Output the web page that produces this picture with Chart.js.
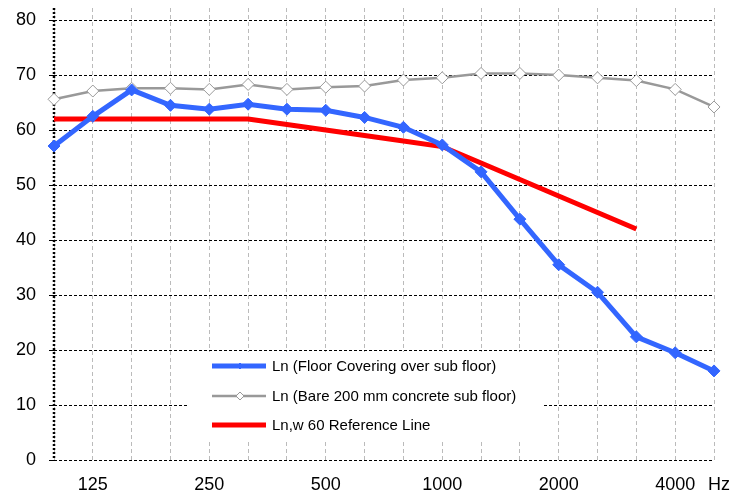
<!DOCTYPE html>
<html><head><meta charset="utf-8">
<script src="https://cdn.jsdelivr.net/npm/chart.js@4"></script>
<style>html,body{margin:0;padding:0;background:#fff;}#wrap{width:744px;height:496px;}</style>
</head><body><div id="wrap"><canvas id="c" width="744" height="496"></canvas></div>
<script>
const bands = ['100','125','160','200','250','315','400','500','630','800','1000','1250','1600','2000','2500','3150','4000','5000'];
const tickLabels = ['','125','','','250','','','500','','','1000','','','2000','','','4000','  Hz'];
const yTicks = [0,10,20,30,40,50,60,70,80];
const floorCovering = [57.1,62.5,67.3,64.5,63.8,64.7,63.8,63.6,62.3,60.5,57.3,52.4,43.8,35.5,30.5,22.4,19.5,16.2];
const bareConcrete = [65.6,67.1,67.6,67.6,67.4,68.3,67.4,67.8,68.0,69.1,69.5,70.3,70.3,70.0,69.5,69.0,67.4,64.2];
const referenceLine = [62,62,62,62,62,62,61,60,59,58,57,54,51,48,45,42,null,null];
const seriesNames = ['Ln (Floor Covering over sub floor)','Ln (Bare 200 mm concrete sub floor)','Ln,w 60 Reference Line'];

const legendPlugin = {
  id: 'boxLegend',
  afterDatasetsDraw(chart) {
    const ctx = chart.ctx;
    const bx = 188, by = 352, bw = 355, bh = 88;
    ctx.save();
    ctx.fillStyle = '#fff';
    ctx.fillRect(bx, by, bw, bh);
    const rows = [366, 396, 425];
    chart.data.datasets.forEach((ds, i) => {
      const y = rows[i];
      ctx.beginPath();
      ctx.strokeStyle = ds.borderColor;
      ctx.lineWidth = ds.borderWidth;
      ctx.moveTo(212, y); ctx.lineTo(266, y); ctx.stroke();
      if (ds.pointStyle) {
        const r = i === 0 ? 3 : 4;
        ctx.beginPath();
        ctx.moveTo(240, y - r); ctx.lineTo(240 + r, y); ctx.lineTo(240, y + r); ctx.lineTo(240 - r, y); ctx.closePath();
        ctx.fillStyle = ds.pointBackgroundColor; ctx.fill();
        ctx.lineWidth = 1; ctx.strokeStyle = ds.pointBorderColor; ctx.stroke();
      }
      ctx.fillStyle = '#000';
      ctx.font = '15px "Liberation Sans", Arial, sans-serif';
      ctx.textBaseline = 'middle';
      ctx.textAlign = 'left';
      ctx.fillText(ds.label, 272, y + 1);
    });
    ctx.restore();
  }
};

const axisLinePlugin = {
  id: 'axisLine',
  beforeDatasetsDraw(chart) {
    const ctx = chart.ctx, a = chart.chartArea;
    const x = chart.scales.x.getPixelForValue(0);
    ctx.save();
    ctx.strokeStyle = '#000'; ctx.lineWidth = 2.5; ctx.setLineDash([2, 2]);
    ctx.beginPath(); ctx.moveTo(x, a.top); ctx.lineTo(x, a.bottom); ctx.stroke();
    ctx.restore();
  }
};

new Chart(document.getElementById('c'), {
  type: 'line',
  data: {
    labels: bands,
    datasets: [
      { label: seriesNames[0], data: floorCovering, borderColor: '#3366FF', borderWidth: 5,
        pointStyle: 'rectRot', pointRadius: 6, pointBackgroundColor: '#3366FF', pointBorderColor: '#3366FF', pointBorderWidth: 1, tension: 0 },
      { label: seriesNames[1], data: bareConcrete, borderColor: '#999999', borderWidth: 2.5,
        pointStyle: 'rectRot', pointRadius: 6, pointBackgroundColor: '#ffffff', pointBorderColor: '#999999', pointBorderWidth: 1, tension: 0 },
      { label: seriesNames[2], data: referenceLine, borderColor: '#FF0000', borderWidth: 5,
        pointRadius: 0, pointStyle: false, tension: 0, spanGaps: false }
    ]
  },
  options: {
    responsive: false, animation: false,
    layout: { padding: { left: 4, right: 30, top: 8, bottom: 0 } },
    plugins: { legend: { display: false }, tooltip: { enabled: false } },
    scales: {
      x: {
        offset: false,
        grid: { color: '#bbbbbb', lineWidth: 1, drawTicks: false, tickLength: 0 },
        border: { display: false, dash: [4, 3] },
        ticks: { autoSkip: false, maxRotation: 0, padding: 14, color: '#000',
          font: { size: 18, family: '"Liberation Sans", Arial, sans-serif' },
          callback: (v, i) => tickLabels[i] },
        afterFit: (s) => { s.height = 36; s.paddingLeft = 0; s.paddingRight = 0; }
      },
      y: {
        min: 0, max: 82.2,
        grid: { color: '#000', lineWidth: 1, tickLength: 5 },
        border: { display: false, dash: [3, 2] },
        ticks: { padding: 13, color: '#000',
          font: { size: 18, family: '"Liberation Sans", Arial, sans-serif' } },
        afterBuildTicks: (s) => { s.ticks = yTicks.map(v => ({ value: v })); },
        afterFit: (s) => { s.width = 50; s.paddingTop = 0; s.paddingBottom = 0; }
      }
    }
  },
  plugins: [axisLinePlugin, legendPlugin]
});
</script></body></html>
